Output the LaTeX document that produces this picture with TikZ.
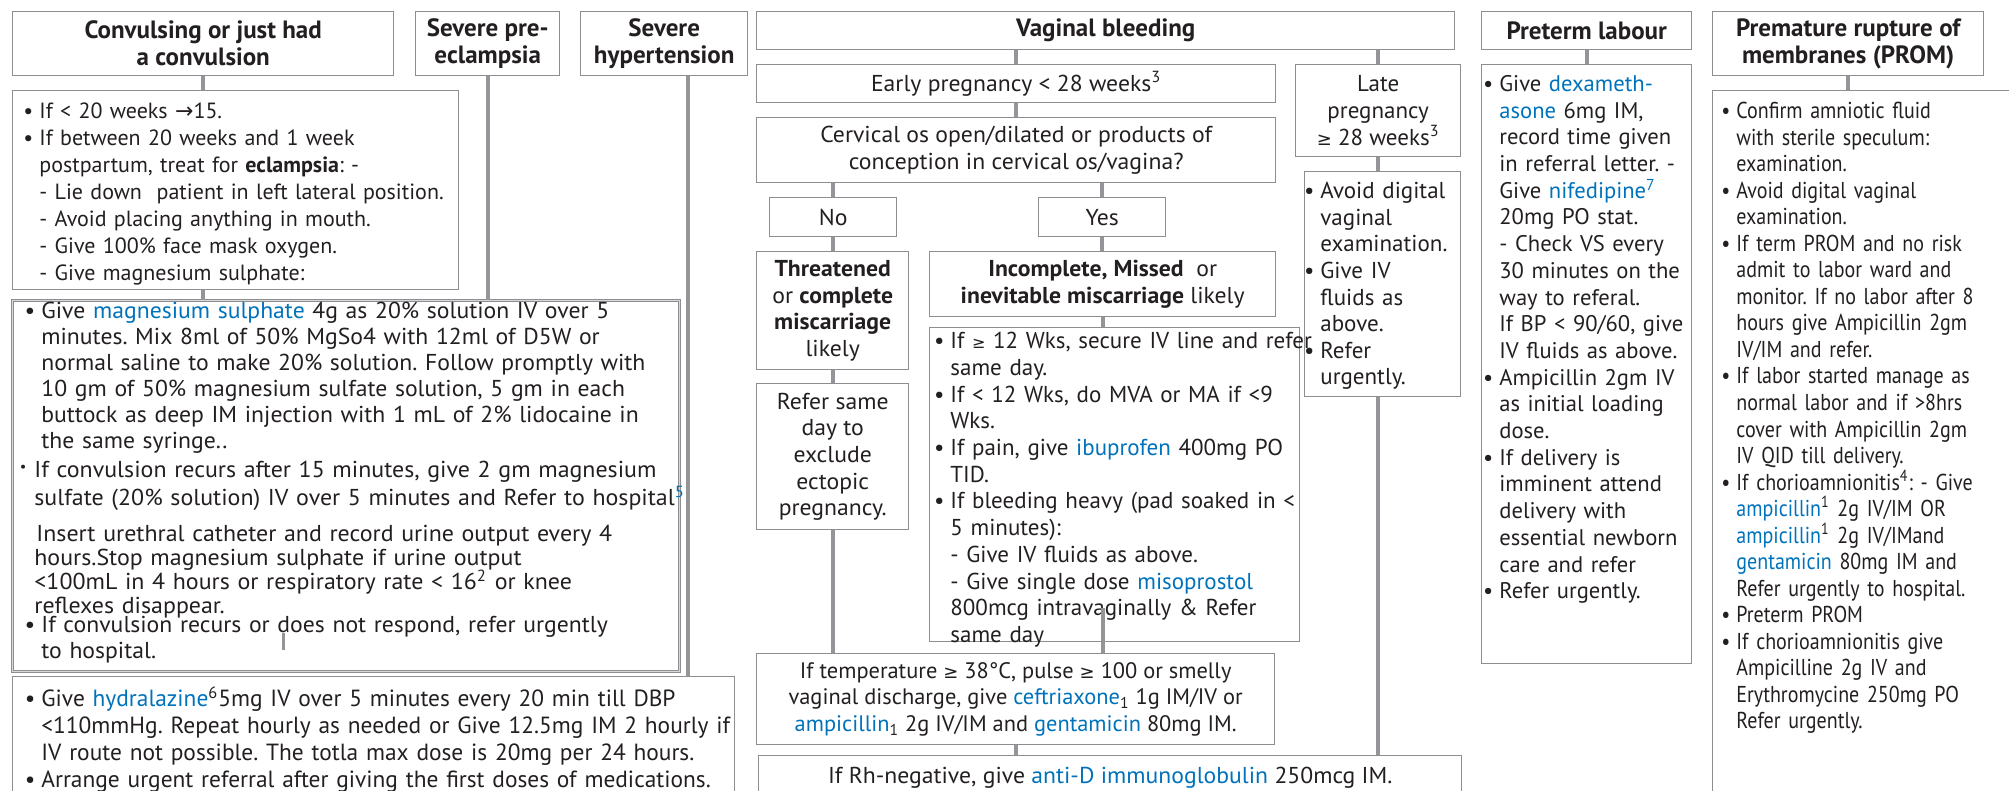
\documentclass[tikz,border=0pt]{standalone}
\usepackage{fontspec}
\setmainfont{PT Sans}
\newfontfamily\cndfont[FakeStretch=0.87]{PT Sans}
\newfontfamily\widefont[FakeStretch=1.03]{PT Sans}
\newfontfamily\wfont[FakeStretch=1.04]{PT Sans}
\newfontfamily\symfont{DejaVu Sans}
\usetikzlibrary{calc}
\definecolor{txtblack}{RGB}{35,31,32}
\definecolor{medblue}{RGB}{0,114,188}
\definecolor{boxgray}{RGB}{140,142,145}
\definecolor{lnkgray}{RGB}{147,149,152}
\newcommand{\drug}[1]{\textcolor{medblue}{#1}}
\newcommand{\bu}{\leavevmode\llap{\textbullet\hspace{3pt}}}
\newcommand{\geqs}{{\symfont\small ≥}}
\newcommand{\arrs}{{\symfont →}}
\newcommand{\fsz}{\fontsize{11.5}{13.35}\selectfont}
\frenchspacing
\tikzset{
  bx/.style 2 args={draw=boxgray, line width=0.7pt, minimum width=#1*0.5pt, minimum height=#2*0.5pt,
    inner sep=0pt, anchor=north west, align=center},
  hdr/.style={font=\bfseries\fontsize{12.5}{13.5}\selectfont},
  mid/.style={font=\widefont\fsz},
  txt/.style={anchor=north west, inner sep=0pt, align=left, text width=#1*0.5pt},
  conn/.style={draw=lnkgray, line width=2pt},
}
\begin{document}
\begin{tikzpicture}[x=0.5pt, y=-0.5pt, font=\fsz, text=txtblack]
  \useasboundingbox (0,0) rectangle (2009,791);
  \clip (0,0) rectangle (2009,791);
  % eclampsia / hypertension column
  \node[bx={381}{64}, hdr] (conv) at (12,11) {Convulsing or just had\\a convulsion};
  \node[bx={144}{64}, hdr] (pre) at (415,11) {Severe pre-\\eclampsia};
  \node[bx={167}{64}, hdr] (hyp) at (580,11) {Severe\\hypertension};
  \node[bx={446}{199}] (conv1) at (12,90) {};
  \node[bx={667}{371}, line width=0.5pt, double=boxgray!35, double distance=0.6pt] (mgso) at (12,300) {};
  \node[bx={722}{130}] (hydra) at (12,676) {};
  \node[txt=420, font=\fontsize{11}{13.5}\selectfont] (conv1t) at (39,102) {%
    \bu If < 20 weeks \arrs15.\\
    \bu If between 20 weeks and 1 week\\
    postpartum, treat for \textbf{eclampsia}: -\\
    - Lie down\ \ patient in left lateral position.\\
    - Avoid placing anything in mouth.\\
    - Give 100\% face mask oxygen.\\
    - Give magnesium sulphate:};
  \node[txt=660, font=\widefont\fontsize{11.5}{13}\selectfont] (mgsot) at (41,302) {%
    \bu Give \drug{magnesium sulphate} 4g as 20\% solution IV over 5\\
    minutes. Mix 8ml of 50\% MgSo4 with 12ml of D5W or\\
    normal saline to make 20\% solution. Follow promptly with\\
    10 gm of 50\% magnesium sulfate solution, 5 gm in each\\
    buttock as deep IM injection with 1 mL of 2\% lidocaine in\\
    the same syringe..};
  \node[txt=700, font=\wfont\fontsize{11.5}{14}\selectfont] (mgsot2) at (34,461) {%
    \leavevmode\llap{\raisebox{3pt}{\scriptsize\textbullet}\hspace{4pt}}If convulsion recurs after 15 minutes, give 2 gm magnesium\\
    sulfate (20\% solution) IV over 5 minutes and Refer to hospital\textsuperscript{\drug{5}}\\[4pt]
    \hspace*{1pt}Insert urethral catheter and record urine output every 4\\[-2pt]
    hours.Stop magnesium sulphate if urine output\\[-2pt]
    <100mL in 4 hours or respiratory rate < 16\textsuperscript{2} or knee\\[-2pt]
    reflexes disappear.};
  \node[txt=660, font=\widefont\fontsize{11.5}{13}\selectfont] (mgsot3) at (41,616) {%
    \bu If convulsion recurs or does not respond, refer urgently\\
    to hospital.};
  \node[txt=740, font=\fontsize{11.7}{13.5}\selectfont] (hydrat) at (41,686) {%
    \bu Give \drug{hydralazine}\textsuperscript{6}5mg IV over 5 minutes every 20 min till DBP\\
    <110mmHg. Repeat hourly as needed or Give 12.5mg IM 2 hourly if\\
    IV route not possible. The totla max dose is 20mg per 24 hours.\\
    \bu Arrange urgent referral after giving the first doses of medications.};
  \coordinate (tick) at (283,633);
  \coordinate (hypx) at ([xshift=12pt]hyp.south);
  \draw[conn, line width=1.5pt] (tick) -- ++(0,17);
  \draw[conn] (conv.south) -- (conv1.north -| conv.south);
  \draw[conn] (conv1.south -| conv.south) -- (mgso.north -| conv.south);
  \draw[conn] (pre.south) -- (mgso.north -| pre.south);
  \draw[conn] (hypx) -- (hydra.north -| hypx);
  % vaginal bleeding column
  \node[bx={698}{38}, hdr] (vb) at (756,11) {Vaginal bleeding};
  \node[bx={519}{38}, mid] (early) at (756,64) {Early pregnancy < 28 weeks\textsuperscript{3}};
  \node[bx={519}{65}, mid] (cerv) at (756,117) {Cervical os open/dilated or products of\\conception in cervical os/vagina?};
  \node[bx={127}{39}, mid] (no) at (769,197) {No};
  \node[bx={127}{39}, mid] (yes) at (1038,197) {Yes};
  \node[bx={152}{118}, mid] (threat) at (756,251) {\textbf{Threatened}\\or \textbf{complete}\\\textbf{miscarriage}\\likely};
  \node[bx={346}{65}, mid] (inc) at (929,251) {\textbf{Incomplete, Missed}\ \ or\\\textbf{inevitable miscarriage} likely};
  \node[bx={370}{314}] (incb) at (929,327) {};
  \node[txt=400] (incbt) at (950,332) {%
    \bu If {\symfont\footnotesize ≥} 12 Wks, secure IV line and refer\\
    same day.\\
    \bu If < 12 Wks, do MVA or MA if <9\\
    Wks.\\
    \bu If pain, give \drug{ibuprofen} 400mg PO\\
    TID.\\
    \bu If bleeding heavy (pad soaked in <\\
    5 minutes):\\
    - Give IV fluids as above.\\
    - Give single dose \drug{misoprostol}\\
    800mcg intravaginally \& Refer\\
    same day};
  \node[bx={152}{146}, mid] (refer) at (756,383) {Refer same\\day to\\exclude\\ectopic\\pregnancy.};
  \node[bx={518}{91}, font=\fontsize{11.2}{13.35}\selectfont] (temp) at (756,653) {If temperature \geqs\ 38°C, pulse \geqs\ 100 or smelly\\
    vaginal discharge, give \drug{ceftriaxone}\textsubscript{1} 1g IM/IV or\\
    \drug{ampicillin}\textsubscript{1} 2g IV/IM and \drug{gentamicin} 80mg IM.};
  \node[bx={703}{44}, mid] (rh) at (758,755) {If Rh-negative, give \drug{anti-D immunoglobulin} 250mcg IM.};
  \node[bx={165}{92}] (late) at (1295,64) {Late\\pregnancy\\\geqs\ 28 weeks\textsuperscript{3}};
  \node[bx={156}{225}] (avoid) at (1304,171) {};
  \node[txt=150, font=\fontsize{11.5}{13.3}\selectfont] (avoidt) at (1320,182) {%
    \bu Avoid digital\\
    vaginal\\
    examination.\\
    \bu Give IV\\
    fluids as\\
    above.\\
    \bu Refer\\
    urgently.};
  \draw[conn] (early.north) -- (early.north |- vb.south);
  \draw[conn] (early.south) -- (cerv.north);
  \draw[conn] (cerv.south -| no.north) -- (no.north);
  \draw[conn] (cerv.south -| yes.north) -- (yes.north);
  \draw[conn] (no.south) -- (threat.north -| no.south);
  \draw[conn] (yes.south) -- (inc.north -| yes.south);
  \draw[conn] (inc.south) -- (incb.north -| inc.south);
  \draw[conn] (threat.south) -- (refer.north);
  \draw[conn] (refer.south) -- (temp.north -| refer.south);
  \draw[conn] ([yshift=17pt]incb.south -| inc.south) -- (temp.north -| inc.south);
  \draw[conn] (temp.south) -- (rh.north -| temp.south);
  \draw[conn] (late.north) -- (late.north |- vb.south);
  \draw[conn] (late.south) -- (avoid.north -| late.south);
  \draw[conn] (avoid.south -| late.south) -- (rh.north -| late.south);
  % preterm labour and PROM
  \node[bx={210}{38}, hdr] (ptl) at (1481,11) {Preterm labour};
  \node[bx={210}{599}] (ptlb) at (1481,64) {};
  \node[txt=200, font=\fontsize{11.3}{13.35}\selectfont] (ptlbt) at (1499,75) {%
    \bu Give \drug{dexameth-}\\
    \drug{asone} 6mg IM,\\
    record time given\\
    in referral letter. -\\
    Give \drug{nifedipine}\textsuperscript{\drug{7}}\\
    20mg PO stat.\\
    - Check VS every\\
    30 minutes on the\\
    way to referal.\\
    If BP < 90/60, give\\
    IV fluids as above.\\
    \bu Ampicillin 2gm IV\\
    as initial loading\\
    dose.\\
    \bu If delivery is\\
    imminent attend\\
    delivery with\\
    essential newborn\\
    care and refer\\
    \bu Refer urgently.};
  \node[bx={271}{64}, hdr] (prom) at (1712,11) {Premature rupture of\\membranes (PROM)};
  \node[bx={320}{720}] (promb) at (1712,90) {};
  \node[txt=290, font=\cndfont\fontsize{11.5}{13.26}\selectfont] (prombt) at (1736,102) {%
    \bu Confirm amniotic fluid\\
    with sterile speculum:\\
    examination.\\
    \bu Avoid digital vaginal\\
    examination.\\
    \bu If term PROM and no risk\\
    admit to labor ward and\\
    monitor. If no labor after 8\\
    hours give Ampicillin 2gm\\
    IV/IM and refer.\\
    \bu If labor started manage as\\
    normal labor and if >8hrs\\
    cover with Ampicillin 2gm\\
    IV QID till delivery.\\
    \bu If chorioamnionitis\textsuperscript{4}: - Give\\
    \drug{ampicillin}\textsuperscript{1} 2g IV/IM OR\\
    \drug{ampicillin}\textsuperscript{1} 2g IV/IMand\\
    \drug{gentamicin} 80mg IM and\\
    Refer urgently to hospital.\\
    \bu Preterm PROM\\
    \bu If chorioamnionitis give\\
    Ampicilline 2g IV and\\
    Erythromycine 250mg PO\\
    Refer urgently.};
  \draw[conn] (ptl.south) -- (ptlb.north);
  \draw[conn] (prom.south) -- (promb.north -| prom.south);
\end{tikzpicture}
\end{document}
